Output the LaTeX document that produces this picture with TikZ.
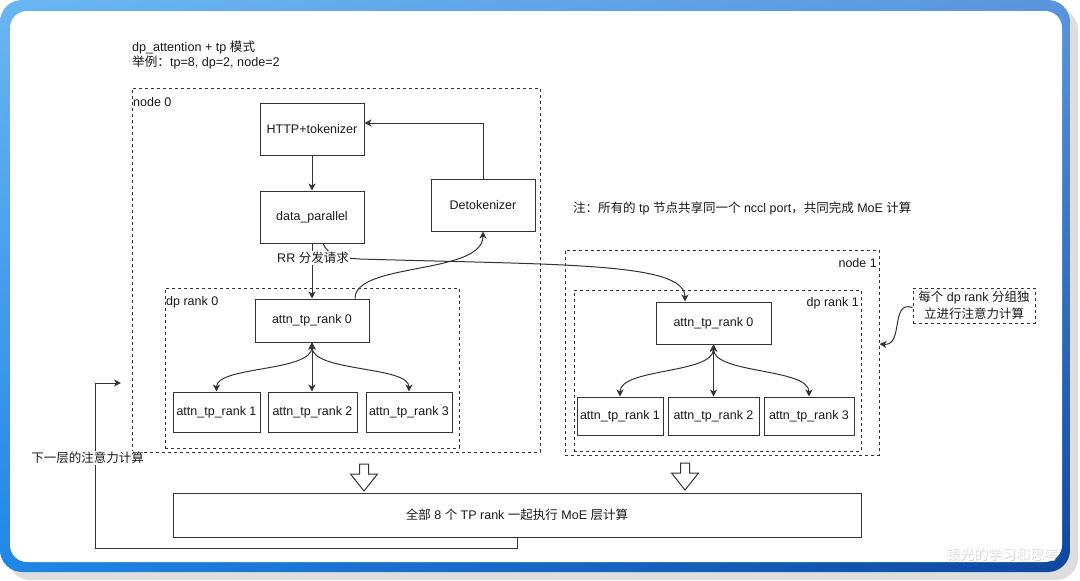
\documentclass[tikz,border=0pt]{standalone}
\usepackage{fontspec}
\setmainfont{Liberation Sans}
\newfontfamily\cjk{Noto Sans CJK SC}
\newcommand\zh[1]{{\cjk #1}}
\usetikzlibrary{arrows.meta,calc,shadings}
\definecolor{linec}{HTML}{333333}
\definecolor{txtc}{HTML}{1A1A1A}
\definecolor{bUL}{HTML}{6AB6F2}
\definecolor{bUR}{HTML}{5A95DE}
\definecolor{bLL}{HTML}{1F86E6}
\definecolor{bLR}{HTML}{0D47A1}
\tikzset{
  txt/.style={font=\fontsize{12.5}{16}\selectfont, text=txtc},
  box/.style={draw=linec, line width=1pt, fill=white, inner sep=0pt, txt},
  cont/.style={draw=linec, line width=1pt, dash pattern=on 3pt off 3pt, inner sep=0pt},
  lbl/.style={inner sep=0pt, txt},
  arr/.style={draw=linec, line width=1pt, -{Stealth[length=7pt,width=7pt,inset=2pt]}},
  darr/.style={draw=linec, line width=1pt, {Stealth[length=7pt,width=7pt,inset=2pt]}-{Stealth[length=7pt,width=7pt,inset=2pt]}},
  hollow/.style={draw=linec, line width=1pt, fill=white, line join=miter}
}
\begin{document}
\begin{tikzpicture}[x=1pt,y=-1pt]
\useasboundingbox (0,0) rectangle (1080,581);
\fill[white] (0,0) rectangle (1080,581);
% frame
\fill[black!13, rounded corners=22pt] (8,8) rectangle (1078,580);
\shade[rounded corners=22pt, upper left=bUL, upper right=bUR, lower left=bLL, lower right=bLR] (0,0) rectangle (1070,572);
\fill[white, rounded corners=17pt] (10,11) rectangle (1062,562);

% title
\node[lbl, anchor=west, align=left, font=\fontsize{12.6}{15.5}\selectfont] (title) at (132,55) {dp\_attention + tp \zh{模式}\\\zh{举例：}tp=8, dp=2, node=2};

% containers
\node[cont, minimum width=408pt, minimum height=364pt] (node0) at (336,270) {};
\node[cont, minimum width=294pt, minimum height=160pt] (dprank0) at (312,368) {};
\node[cont, minimum width=314pt, minimum height=205pt] (node1) at (722,352.5) {};
\node[cont, minimum width=287pt, minimum height=161pt] (dprank1) at (717.5,370.5) {};
\node[lbl, anchor=west] (n0lbl) at (133,102) {node 0};
\node[lbl, anchor=west] (d0lbl) at (166,302) {dp rank 0};
\node[lbl, anchor=east] (n1lbl) at (877,263) {node 1};
\node[lbl, anchor=east] (d1lbl) at (859,303) {dp rank 1};

% node 0 boxes
\node[box, minimum width=104pt, minimum height=52pt] (http) at (312,129) {HTTP+tokenizer};
\node[box, minimum width=104pt, minimum height=52pt] (dp) at (312,217) {data\_parallel};
\node[box, minimum width=104pt, minimum height=52pt] (detok) at (483,205) {Detokenizer};
\node[box, minimum width=114pt, minimum height=43pt] (a00) at (312,320.5) {attn\_tp\_rank 0};
\node[box, minimum width=87pt, minimum height=40pt] (a01) at (216.5,412) {attn\_tp\_rank 1};
\node[box, minimum width=89pt, minimum height=40pt] (a02) at (312.5,412) {attn\_tp\_rank 2};
\node[box, minimum width=86pt, minimum height=40pt] (a03) at (409,412) {attn\_tp\_rank 3};

% node 1 boxes
\node[box, minimum width=115pt, minimum height=42pt] (a10) at (713.5,323) {attn\_tp\_rank 0};
\node[box, minimum width=86pt, minimum height=38pt] (a11) at (620,416) {attn\_tp\_rank 1};
\node[box, minimum width=91pt, minimum height=38pt] (a12) at (713.5,416) {attn\_tp\_rank 2};
\node[box, minimum width=90pt, minimum height=38pt] (a13) at (809,416) {attn\_tp\_rank 3};

% note and annotation
\node[lbl, anchor=west] (note) at (573,208) {\zh{注：所有的} tp \zh{节点共享同一个} nccl port\zh{，共同完成} MoE \zh{计算}};
\node[cont, fill=white, minimum width=122pt, minimum height=35pt, align=center, font=\fontsize{12.5}{17}\selectfont, text=txtc] (ann) at (974,305.5) {\zh{每个} dp rank \zh{分组独}\\\zh{立进行注意力计算}};

% MoE
\node[box, minimum width=688pt, minimum height=44pt] (moe) at (517,515) {\zh{全部} 8 \zh{个} TP rank \zh{一起执行} MoE \zh{层计算}};

% connectors node 0
\draw[arr] (http.south) -- (dp.north);
\draw[arr] (detok.north) |- ([yshift=6pt]http.east);
\draw[arr] (dp.south) -- (a00.north);
\draw[arr] ([xshift=43pt]a00.north) .. controls (355,262) and (483,275) .. (detok.south);
\draw[darr] (a00.south) -- (a00.south |- a02.north);
\draw[darr] (a00.south) .. controls (312,372) and (216.5,366) .. (a01.north);
\draw[darr] (a00.south) .. controls (312,372) and (409,366) .. (a03.north);

% RR dispatch to node 1
\coordinate (rrmid) at (360,259);
\draw[arr] ([xshift=11pt]dp.south) .. controls (328,256) and (342,258) .. (rrmid) .. controls (560,265) and (685,262) .. ([xshift=-28.5pt]a10.north);
\node[lbl, fill=white, inner xsep=1pt, inner ysep=1pt] (rrlbl) at (313,258) {RR \zh{分发请求}};

% node 1 connectors
\draw[darr] (a10.south) -- (a12.north);
\draw[darr] (a10.south) .. controls (713.5,374) and (620,368) .. (a11.north);
\draw[darr] (a10.south) .. controls (713.5,374) and (809,368) .. (a13.north);

% annotation arrow
\draw[arr] ([yshift=-2pt]ann.west) .. controls (890,300) and (904,346) .. ([yshift=8.5pt]node1.east);

% hollow arrows
\draw[hollow] (359.5,464) -- (359.5,474) -- (350.5,474) -- (364,491) -- (377.5,474) -- (368.5,474) -- (368.5,464) -- cycle;
\draw[hollow] (680.5,463) -- (680.5,473) -- (671.5,473) -- (685,490) -- (698.5,473) -- (689.5,473) -- (689.5,463) -- cycle;

% loop back
\coordinate (loopcorner) at (95,548);
\coordinate (loopend) at (121,383);
\draw[arr] (moe.south) |- (loopcorner) |- (loopend);
\node[lbl, fill=white, inner xsep=0pt, inner ysep=1pt] (looplbl) at (87.5,458) {\zh{下一层的注意力计算}};

% watermark
\node[font=\cjk\fontsize{14}{14}\selectfont, text=black!18, inner sep=0pt] (wm0) at (1002.8,554.8) {银光的学习和思考};
\node[font=\cjk\fontsize{14}{14}\selectfont, text=white, inner sep=0pt] (wm) at (1002,554) {银光的学习和思考};
\end{tikzpicture}
\end{document}
